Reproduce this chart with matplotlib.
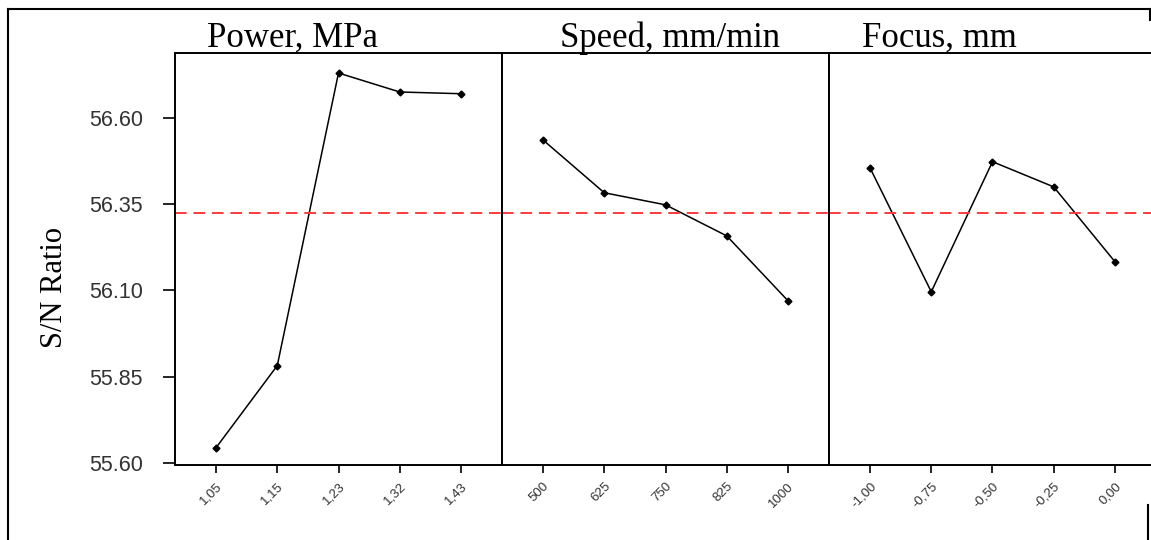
import matplotlib.pyplot as plt
from matplotlib.lines import Line2D

# factor levels and mean S/N ratios
power_levels = ["1,05", "1,15", "1,23", "1,32", "1,43"]
power_sn = [55.644, 55.882, 56.730, 56.675, 56.670]

speed_levels = ["500", "625", "750", "825", "1000"]
speed_sn = [56.536, 56.383, 56.348, 56.258, 56.070]

focus_levels = ["-1,00", "-0,75", "-0,50", "-0,25", "0,00"]
focus_sn = [56.455, 56.096, 56.473, 56.400, 56.183]

titles = ["Power, MPa", "Speed, mm/min", "Focus, mm"]
title_x = [0.098, 0.177, 0.10]
mean_sn = 56.324
yticks = [55.60, 55.85, 56.10, 56.35, 56.60]

panels = [(power_levels, power_sn), (speed_levels, speed_sn), (focus_levels, focus_sn)]

W, H = 1151, 540
fig = plt.figure(figsize=(W / 100, H / 100), dpi=100)

# outer frame around the figure
frame_kw = dict(color="black", lw=1.5, transform=fig.transFigure)
fig.add_artist(Line2D([8 / W, 8 / W], [0, 1 - 9 / H], **frame_kw))
fig.add_artist(Line2D([8 / W, 1150 / W], [1 - 9 / H, 1 - 9 / H], **frame_kw))
fig.add_artist(Line2D([1150 / W, 1150 / W], [1 - 9 / H, 1 - 20 / H], **frame_kw))
fig.add_artist(Line2D([1148 / W, 1148 / W], [0, 1 - 505 / H], **frame_kw))

left, bottom = 175 / W, 1 - 465 / H
pw, ph = 327 / W, (465 - 53) / H

for i, (levels, vals) in enumerate(panels):
    ax = fig.add_axes([left + i * pw, bottom, pw, ph])
    x = range(1, len(levels) + 1)
    ax.plot(x, vals, color="black", lw=1.1, marker="D", markersize=3.5)
    ax.axhline(mean_sn, color="#ff3b3b", lw=1.4, dashes=(6, 3.5))
    ax.set_xlim(0.33, 5.67)
    ax.set_ylim(55.594, 56.788)
    ax.set_xticks(list(x))
    ax.set_xticklabels(levels, rotation=45, ha="right", rotation_mode="anchor",
                       fontsize=9.5, family="Liberation Sans", color="#333333")
    ax.tick_params(axis="x", length=6, width=1.2, pad=5)
    for s in ax.spines.values():
        s.set_linewidth(1.4)
    if i == 0:
        ax.set_yticks(yticks)
        ax.set_yticklabels([f"{v:.2f}" for v in yticks], fontsize=15.5,
                           family="Liberation Sans", color="#333333")
        ax.tick_params(axis="y", length=9, width=1.2, pad=14)
        ax.set_ylabel("S/N Ratio", family="Liberation Serif", fontsize=22)
        ax.yaxis.set_label_coords(-0.324, 0.43)
    else:
        ax.set_yticks([])
    ax.text(title_x[i], 1.0146, titles[i], transform=ax.transAxes, ha="left", va="baseline",
            family="Liberation Serif", fontsize=25)

fig.savefig("out.png", dpi=100)
